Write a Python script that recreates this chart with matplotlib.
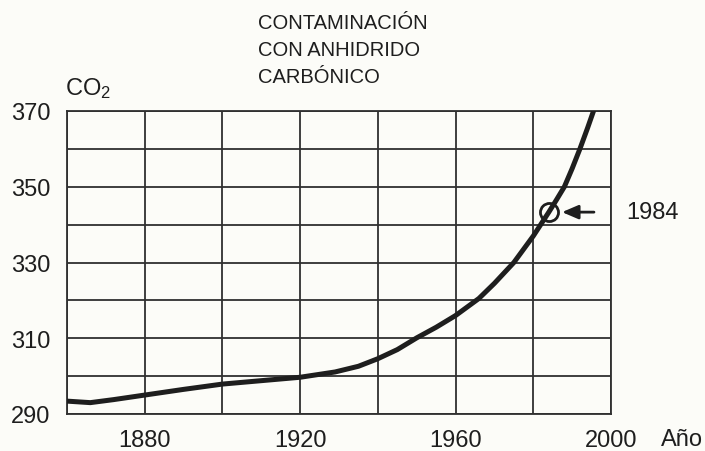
import matplotlib
matplotlib.use("Agg")
import matplotlib.pyplot as plt

plt.rcParams['font.family'] = ['Liberation Sans', 'DejaVu Sans']
plt.rcParams['mathtext.default'] = 'regular'

# ---- data ----
years = [1860, 1866, 1872, 1880, 1890, 1900, 1910, 1920, 1929, 1935, 1940,
         1945, 1950, 1955, 1960, 1966, 1970, 1975, 1980, 1984, 1986, 1988,
         1990, 1992, 1994, 1995.5]
co2 = [293.4, 293.0, 293.8, 295.0, 296.5, 297.9, 298.8, 299.7, 301.1, 302.6, 304.6,
       307.0, 310.1, 312.9, 316.0, 320.5, 324.5, 330.0, 337.0, 343.3, 346.6, 350.0,
       354.8, 360.0, 365.6, 370.0]
highlight_year = 1984
highlight_value = 343.3
highlight_label = "1984"

x_ticks = [1880, 1920, 1960, 2000]
y_ticks = [290, 310, 330, 350, 370]
x_grid = [1860, 1880, 1900, 1920, 1940, 1960, 1980, 2000]
y_grid = [290, 300, 310, 320, 330, 340, 350, 360, 370]
title_lines = ["CONTAMINACIÓN", "CON ANHIDRIDO", "CARBÓNICO"]

W, H = 705, 452
bg = '#fcfcf8'
ink = '#1e1e1e'

fig = plt.figure(figsize=(W / 100, H / 100), dpi=100, facecolor=bg)
ax = fig.add_axes([67 / W, (H - 415) / H, (611 - 67) / W, (415 - 112) / H])
ax.set_facecolor(bg)

ax.set_xlim(1860, 2000)
ax.set_ylim(290, 370)

for gx in x_grid:
    ax.axvline(gx, color='#303030', lw=1.3, zorder=1)
for gy in y_grid:
    ax.axhline(gy, color='#303030', lw=1.3, zorder=1)
for s in ax.spines.values():
    s.set_color('#303030')
    s.set_linewidth(1.3)

ax.plot(years, co2, color=ink, lw=3.6, solid_capstyle='round',
        solid_joinstyle='round', zorder=3)

ax.plot([highlight_year], [highlight_value], marker='o', ms=13, mfc='none',
        mec=ink, mew=2.0, zorder=4)
ax.annotate('', xy=(highlight_year, highlight_value), xytext=(32.5, 0),
            textcoords='offset points',
            arrowprops=dict(arrowstyle='-|>,head_length=0.7,head_width=0.3',
                            color=ink, lw=2.0, shrinkA=0, shrinkB=9.5,
                            mutation_scale=14),
            zorder=4, annotation_clip=False)
ax.annotate(highlight_label, xy=(highlight_year, highlight_value), xytext=(56, 0),
            textcoords='offset points', ha='left', va='center',
            fontsize=17, color=ink, annotation_clip=False)

ax.set_xticks(x_ticks)
ax.set_yticks(y_ticks)
ax.set_xticklabels([str(t) for t in x_ticks])
ax.set_yticklabels([str(t) for t in y_ticks])
ax.tick_params(axis='both', length=0, labelsize=17, labelcolor=ink)
ax.tick_params(axis='x', pad=11)
ax.tick_params(axis='y', pad=12)

fig.text(661 / W, 1 - 440 / H, 'Año', ha='left', va='center', fontsize=17, color=ink)
fig.text(65 / W, 1 - 95 / H, 'CO$_2$', ha='left', va='baseline', fontsize=17, color=ink)

baselines = [29, 56, 83]
for line, b in zip(title_lines, baselines):
    fig.text(258 / W, 1 - b / H, line, ha='left', va='baseline', fontsize=14.5, color=ink)

fig.savefig('out.png', dpi=100, facecolor=bg)
